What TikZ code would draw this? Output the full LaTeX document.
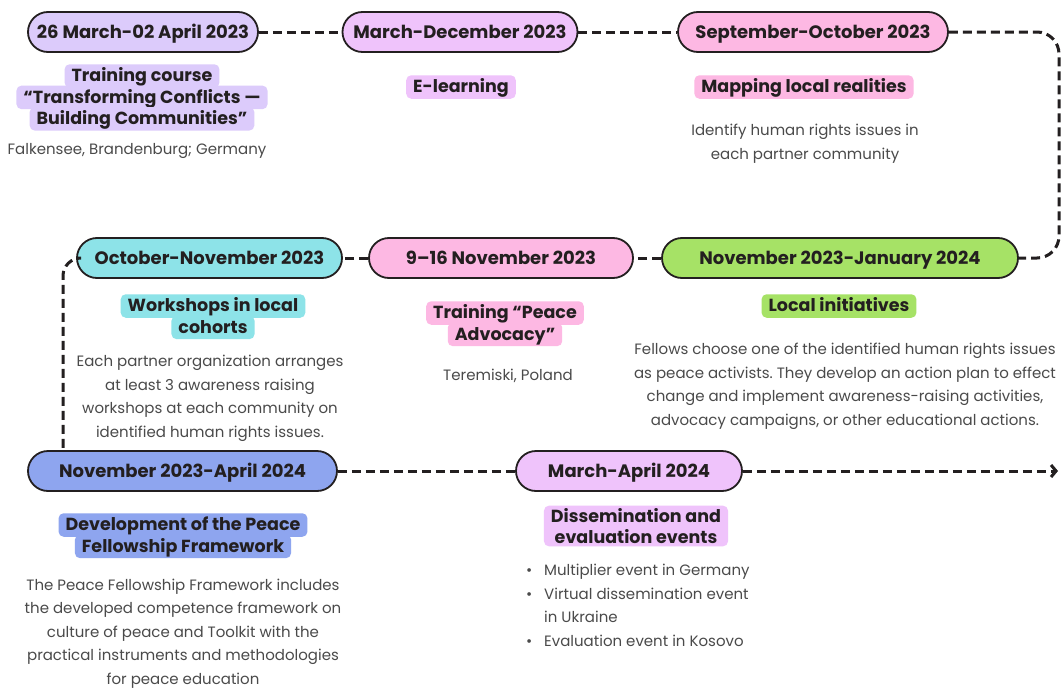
\documentclass[tikz,border=0pt]{standalone}
\usepackage{fontspec}
\setmainfont{Poppins}
\usepackage{xcolor}
\usetikzlibrary{positioning, arrows.meta}

% Bảng màu
\definecolor{inkdark}{HTML}{231F20}
\definecolor{bodygray}{HTML}{4A4A4A}
\definecolor{tagLavender}{HTML}{DCCBFB}
\definecolor{tagOrchid}{HTML}{EFC3FB}
\definecolor{tagRose}{HTML}{FDB8E3}
\definecolor{tagAqua}{HTML}{8DE3E8}
\definecolor{tagLime}{HTML}{A6E266}
\definecolor{tagBlue}{HTML}{8EA5EF}

\tikzset{
    datepill/.style={draw=inkdark, line width=1.8pt, fill=#1, rounded corners=20pt,
        minimum height=40pt, text height=15.5pt, text depth=3pt,
        font=\fontsize{18}{21}\selectfont\bfseries, text=inkdark},
    tagbase/.style={fill=#1, rounded corners=5pt, inner xsep=7pt, inner ysep=3pt,
        font=\fontsize{17.5}{20.5}\selectfont\bfseries, text=inkdark},
    tagline/.style={tagbase=#1, text height=14.5pt, text depth=3pt},
    desc/.style={align=center, font=\fontsize{15}{23.5}\selectfont, text=bodygray, inner sep=0pt},
    timeline/.style={line width=3pt, dash pattern=on 9pt off 5pt, draw=inkdark},
}

\newcommand{\itm}{\makebox[21pt][l]{\hspace{3pt}•}}
\newcommand{\itmgap}{\makebox[21pt][l]{}}

\frenchspacing

\begin{document}
\begin{tikzpicture}[x=1pt, y=-1pt]

    \useasboundingbox (0,0) rectangle (1061,688);
    \fill[white] (0,0) rectangle (1061,688);

    % =================================================================
    % HÀNG 1
    % =================================================================
    \node[datepill=tagLavender, minimum width=230pt] (P1) at (143,32) {26 March-02 April 2023};
    \node[datepill=tagOrchid, minimum width=235pt] (P2) at (460,32) {March-December 2023};
    \node[datepill=tagRose, minimum width=270pt] (P3) at (813,32) {September-October 2023};

    \node[tagline=tagLavender] (T1a) at (142,76) {Training course};
    \node[tagline=tagLavender, below=-2.5pt of T1a] (T1b) {“Transforming Conflicts —};
    \node[tagline=tagLavender, below=-2.5pt of T1b] (T1c) {Building Communities”};
    \node[desc] (D1) at (137,151) {Falkensee, Brandenburg; Germany};

    \node[tagline=tagOrchid] (T2) at (461,87) {E-learning};

    \node[tagline=tagRose] (T3) at (804,87) {Mapping local realities};
    \node[desc] (D3) at (805,143.5) {Identify human rights issues in\\each partner community};

    % =================================================================
    % HÀNG 2
    % =================================================================
    \node[datepill=tagAqua, minimum width=265pt] (P4) at (209.5,258) {October-November 2023};
    \node[datepill=tagRose, minimum width=264pt] (P5) at (501,258) {9–16 November 2023};
    \node[datepill=tagLime, minimum width=356pt] (P6) at (840,258) {November 2023-January 2024};

    \node[tagline=tagAqua] (T4a) at (213,306) {Workshops in local};
    \node[tagline=tagAqua, below=-2.5pt of T4a] (T4b) {cohorts};
    \node[desc] (D4) at (210,398.5) {Each partner organization arranges\\at least 3 awareness raising\\workshops at each community on\\identified human rights issues.};

    \node[tagline=tagRose] (T5a) at (505,313) {Training “Peace};
    \node[tagline=tagRose, below=-2.5pt of T5a] (T5b) {Advocacy”};
    \node[desc] (D5) at (508,376) {Teremiski, Poland};

    \node[tagline=tagLime] (T6) at (839,306) {Local initiatives};
    \node[desc] (D6) at (845,386.5) {Fellows choose one of the identified human rights issues\\as peace activists. They develop an action plan to effect\\change and implement awareness-raising activities,\\advocacy campaigns, or other educational actions.};

    % =================================================================
    % HÀNG 3
    % =================================================================
    \node[datepill=tagBlue, minimum width=309pt] (P7) at (182.5,471) {November 2023-April 2024};
    \node[datepill=tagOrchid, minimum width=226pt] (P8) at (629,471) {March-April 2024};

    \node[tagline=tagBlue] (T7a) at (183,525) {Development of the Peace};
    \node[tagline=tagBlue, below=-2.5pt of T7a] (T7b) {Fellowship Framework};
    \node[desc] (D7) at (183,633.5) {The Peace Fellowship Framework includes\\the developed competence framework on\\culture of peace and Toolkit with the\\practical instruments and methodologies\\for peace education};

    \node[tagbase=tagOrchid, align=center] (T8) at (636,526) {Dissemination and\\evaluation events};
    \node[desc, align=left, anchor=west] (D8) at (523,605.5) {\itm Multiplier event in Germany\\\itm Virtual dissemination event\\\itmgap in Ukraine\\\itm Evaluation event in Kosovo};

    % =================================================================
    % ĐƯỜNG THỜI GIAN (nét đứt)
    % =================================================================
    \coordinate (railR) at (1059,0);
    \coordinate (railL) at (63,0);
    \coordinate (tlEnd) at (1058,0);

    \draw[timeline] (P1.east) -- (P2.west);
    \draw[timeline] (P2.east) -- (P3.west);
    \draw[timeline, rounded corners=22pt] (P3.east) -- (P3.east -| railR) -- (P6.east -| railR) -- (P6.east);
    \draw[timeline] (P6.west) -- (P5.east);
    \draw[timeline] (P5.west) -- (P4.east);
    \draw[timeline, rounded corners=18pt] (P4.west) -- (P4.west -| railL) -- (railL |- P7.north);
    \draw[timeline] (P7.east) -- (P8.west);
    \draw[timeline, -{Straight Barb[length=5pt, width=12pt]}] (P8.east) -- (tlEnd |- P8.east);

\end{tikzpicture}
\end{document}
